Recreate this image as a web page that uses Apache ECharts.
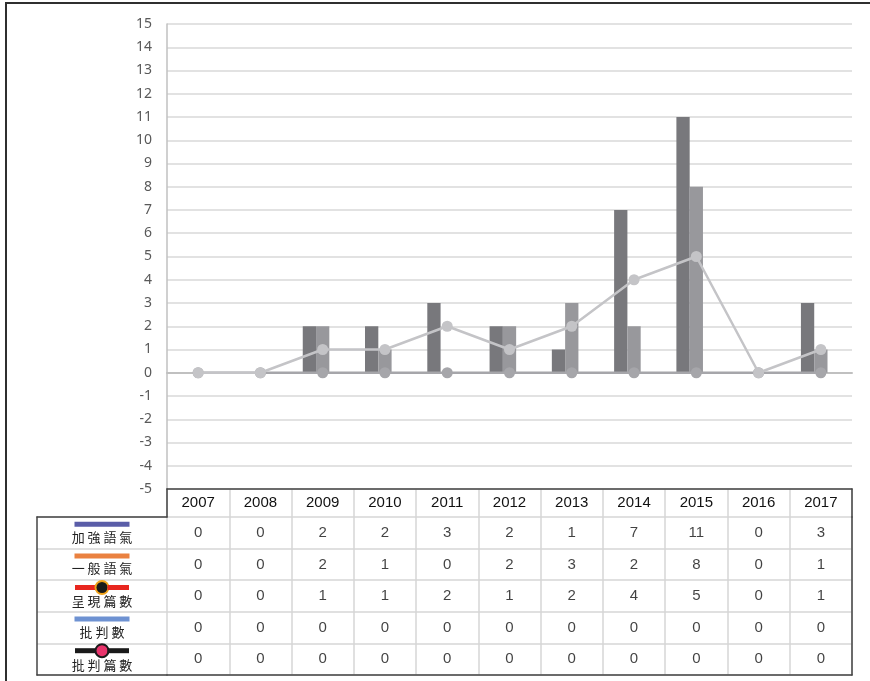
<!DOCTYPE html>
<html>
<head>
<meta charset="utf-8">
<script src="https://cdn.jsdelivr.net/npm/echarts@6/dist/echarts.min.js"></script>
<style>
html,body{margin:0;padding:0;background:#fff;}
#c{position:absolute;left:0;top:0;width:870px;height:681px;}
#frame{position:absolute;left:5px;top:2px;right:0;bottom:0;border-top:2px solid #2f2f2f;border-left:2px solid #2f2f2f;pointer-events:none;}
</style>
</head>
<body>
<div id="c"></div>
<div id="frame"></div>
<script>
// ---- data ----
const years = ['2007','2008','2009','2010','2011','2012','2013','2014','2015','2016','2017'];
const rowNames = ['加強語氣','一般語氣','呈現篇數','批判數','批判篇數'];
const emphatic = [0,0,2,2,3,2,1,7,11,0,3];          // 加強語氣
const general = [0,0,2,1,0,2,3,2,8,0,1];           // 一般語氣
const presented = [0,0,1,1,2,1,2,4,5,0,1];         // 呈現篇數
const critiques = [0,0,0,0,0,0,0,0,0,0,0];         // 批判數
const critiqueArticles = [0,0,0,0,0,0,0,0,0,0,0];  // 批判篇數
const yMin = -5, yMax = 15, yStep = 1;

const rows = [emphatic, general, presented, critiques, critiqueArticles];
const tableData = [];
rows.forEach(function (arr, r) {
  arr.forEach(function (v, i) { tableData.push({value: [years[i], rowNames[r], v]}); });
});

const DARK = '#444444', LIGHT = '#d6d6d6', NUM = 'Liberation Sans';
const noAxis = {show:false};
const spaced = function (s) { return s.split('').join(' '); };
const iconKey = {
  '加強語氣': '{b1|}', '一般語氣': '{b2|}', '呈現篇數': '{r3l|}{r3m|}{r3l|}',
  '批判數': '{b4|}', '批判篇數': '{k5l|}{k5m|}{k5l|}'
};

const chart = echarts.init(document.getElementById('c'), null, {renderer:'canvas'});
chart.setOption({
  animation: false,
  backgroundColor: '#fff',
  grid: [
    {left:167, right:18, top:24, bottom:192},
    {left:167, right:18, top:489, height:28},
    {left:167, right:18, top:517, bottom:6},
    {left:37, width:130, top:517, bottom:6}
  ],
  xAxis: [
    {type:'category', gridIndex:0, data:years,
     axisLine:{show:true, onZero:true, lineStyle:{color:'#c0c0c0', width:2}},
     axisTick:noAxis, axisLabel:noAxis, splitLine:noAxis},
    {type:'category', gridIndex:1, data:years, position:'top',
     axisLine:{show:true, onZero:false, lineStyle:{color:DARK, width:1.5}},
     axisTick:noAxis,
     axisLabel:{show:true, inside:true, margin:14, interval:0, verticalAlign:'middle',
       color:'#111', fontSize:15, fontFamily:NUM},
     splitLine:{show:true, interval:0, lineStyle:{color:LIGHT, width:1.5}}},
    {type:'category', gridIndex:2, data:years, position:'bottom',
     axisLine:{show:true, onZero:false, lineStyle:{color:DARK, width:1.5}},
     axisTick:noAxis, axisLabel:noAxis,
     splitLine:{show:true, interval:0, lineStyle:{color:LIGHT, width:1.5}}},
    {type:'value', gridIndex:3, min:0, max:1, position:'bottom',
     axisLine:{show:true, onZero:false, lineStyle:{color:DARK, width:1.5}},
     axisTick:noAxis, axisLabel:noAxis, splitLine:noAxis},
    {type:'value', gridIndex:3, min:0, max:1, position:'top',
     axisLine:{show:true, onZero:false, lineStyle:{color:DARK, width:1.5}},
     axisTick:noAxis, axisLabel:noAxis, splitLine:noAxis}
  ],
  yAxis: [
    {type:'value', gridIndex:0, min:yMin, max:yMax, interval:yStep,
     axisLine:{show:true, onZero:false, lineStyle:{color:'#c0c0c0', width:1.5}},
     axisTick:noAxis,
     axisLabel:{color:'#595959', fontSize:14, fontFamily:'Noto Sans', margin:15},
     splitLine:{show:true, lineStyle:{color:'#d9d9d9', width:1.5}}},
    {type:'value', gridIndex:1, min:0, max:1, position:'left',
     axisLine:{show:true, onZero:false, lineStyle:{color:DARK, width:1.5}},
     axisTick:noAxis, axisLabel:noAxis, splitLine:noAxis},
    {type:'value', gridIndex:1, min:0, max:1, position:'right',
     axisLine:{show:true, onZero:false, lineStyle:{color:DARK, width:1.5}},
     axisTick:noAxis, axisLabel:noAxis, splitLine:noAxis},
    {type:'category', gridIndex:2, data:rowNames, inverse:true, position:'right',
     axisLine:{show:true, onZero:false, lineStyle:{color:DARK, width:1.5}},
     axisTick:noAxis, axisLabel:noAxis,
     splitLine:{show:true, interval:0, lineStyle:{color:LIGHT, width:1.5}}},
    {type:'category', gridIndex:3, data:rowNames, inverse:true, position:'left',
     axisLine:{show:true, onZero:false, lineStyle:{color:DARK, width:1.5}},
     axisTick:noAxis,
     axisLabel:{show:true, inside:true, margin:65, align:'center', verticalAlign:'middle', interval:0,
       formatter:function (v) {
         const marker = (v === '呈現篇數' || v === '批判篇數');
         return iconKey[v] + '\n' + (marker ? '{t2|' : '{t|') + spaced(v) + '}';
       },
       rich:{
         b1:{width:55, height:5, backgroundColor:'#5a5da8', align:'center'},
         b2:{width:55, height:5, backgroundColor:'#ea8140', align:'center'},
         b4:{width:55, height:5, backgroundColor:'#6e92d2', align:'center'},
         r3l:{width:21.5, height:5, backgroundColor:'#e8261f', align:'center'},
         r3m:{width:11, height:11, borderRadius:6, backgroundColor:'#1a1a1a', borderColor:'#f0a31a', borderWidth:2, align:'center'},
         k5l:{width:21.5, height:5, backgroundColor:'#1a1a1a', align:'center'},
         k5m:{width:11, height:11, borderRadius:6, backgroundColor:'#e8336b', borderColor:'#1a1a1a', borderWidth:2, align:'center'},
         t:{fontSize:13, fontFamily:'Noto Sans CJK TC', color:'#222', align:'center', lineHeight:17, padding:[3,0,0,0]},
         t2:{fontSize:13, fontFamily:'Noto Sans CJK TC', color:'#222', align:'center', lineHeight:17}
       }},
     splitLine:{show:true, interval:0, lineStyle:{color:LIGHT, width:1.5}}}
  ],
  series: [
    {name:'加強語氣', type:'bar', xAxisIndex:0, yAxisIndex:0, data:emphatic,
     barGap:'0%', barCategoryGap:'36%', itemStyle:{color:'#78787c'}},
    {name:'一般語氣', type:'bar', xAxisIndex:0, yAxisIndex:0, data:general,
     itemStyle:{color:'#98989c'}},
    {name:'批判數', type:'bar', xAxisIndex:0, yAxisIndex:0, data:critiques,
     itemStyle:{color:'#a8a8a8'}},
    {name:'批判篇數', type:'line', xAxisIndex:0, yAxisIndex:0, data:critiqueArticles, z:3,
     symbol:'circle', symbolSize:11, lineStyle:{color:'#a6a6aa', width:2.5},
     itemStyle:{color:'#a6a6aa'}},
    {name:'呈現篇數', type:'line', xAxisIndex:0, yAxisIndex:0, data:presented, z:4,
     symbol:'circle', symbolSize:11, lineStyle:{color:'#c4c4c7', width:2.5},
     itemStyle:{color:'#c4c4c7'}},
    {name:'table', type:'scatter', xAxisIndex:2, yAxisIndex:3, data:tableData, silent:true,
     symbol:'rect', symbolSize:[20,16], itemStyle:{color:'rgba(0,0,0,0)'},
     label:{show:true, position:'inside', color:'#111', fontSize:15, fontFamily:NUM,
       formatter:function (p) { return String(p.value[2]); }}}
  ]
});
</script>
</body>
</html>
